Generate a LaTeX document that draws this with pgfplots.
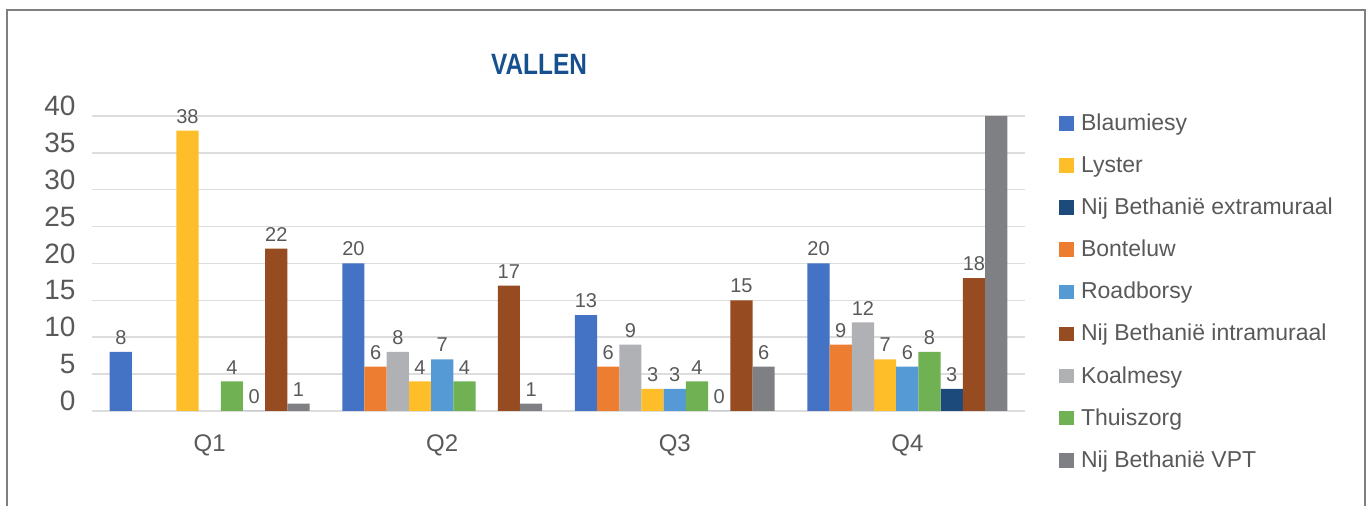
\documentclass[border=0pt]{standalone}
\usepackage{fontspec}
\setmainfont{Liberation Sans}
\newfontfamily\titlefont{Liberation Sans}[FakeStretch=0.83]
\usepackage{pgfplots}
\pgfplotsset{compat=1.18}
\definecolor{cBlau}{HTML}{4472C4}
\definecolor{cBont}{HTML}{ED7D31}
\definecolor{cKoal}{HTML}{B0B1B4}
\definecolor{cLyst}{HTML}{FEBE29}
\definecolor{cRoad}{HTML}{5599D5}
\definecolor{cThui}{HTML}{6FB153}
\definecolor{cExtr}{HTML}{1B4A7B}
\definecolor{cIntr}{HTML}{974B20}
\definecolor{cVPT}{HTML}{7F8084}
\definecolor{txt}{HTML}{595959}
\definecolor{gridc}{HTML}{DDDDDD}
\definecolor{framec}{HTML}{7F7F7F}
\definecolor{titleblue}{HTML}{17508F}
\begin{document}
\begin{tikzpicture}
\useasboundingbox (0,0) rectangle (685pt,253pt);
\draw[line width=1pt, color=framec] (3.5pt,-2pt) -- (3.5pt,248pt) -- (682.5pt,248pt) -- (682.5pt,-2pt);
\node[anchor=base, inner sep=0pt, font=\titlefont\bfseries\fontsize{14.7}{15}\selectfont, text=titleblue] at (269.5pt,215.5pt) {VALLEN};
\begin{axis}[
  at={(46pt,47.5pt)}, anchor=south west,
  scale only axis, width=466.5pt, height=147.5pt,
  xmin=-0.506, xmax=3.506, ymin=0, ymax=40,
  clip=false,
  ytick={0,5,...,40}, xtick={0,1,2,3}, xticklabels={Q1,Q2,Q3,Q4},
  ymajorgrids, grid style={color=gridc, line width=0.75pt},
  axis line style={draw=none}, major tick length=0pt,
  /pgf/number format/assume math mode=true,
  yticklabel style={font=\fontsize{14}{14}\selectfont, text=txt, xshift=-4.7pt, yshift=5pt},
  xticklabel style={font=\fontsize{12}{12}\selectfont, text=txt, yshift=-8.5pt},
  ybar, bar width=0.0955,
  point meta=explicit symbolic,
  nodes near coords,
  nodes near coords style={font=\fontsize{10}{10}\selectfont, text=txt, inner sep=0pt, yshift=3.5pt},
  legend style={at={(1.0365,1.0203)}, anchor=north west, draw=none, fill=none,
    inner sep=0pt, row sep=7.05pt, column sep=1.5pt,
    font=\fontsize{11.5}{11.5}\selectfont, text=txt,
    nodes={inner sep=2pt, text height=8pt, text depth=2pt}},
  legend cell align=left,
  legend image code/.code={\path[fill=none,draw=none] (0pt,-4.5pt) rectangle (7.3pt,4.5pt);\fill[#1] (0pt,-3.15pt) rectangle (7.3pt,4.15pt);},
]
% legend order: Blaumiesy, Lyster, extramuraal, Bonteluw, Roadborsy, intramuraal, Koalmesy, Thuiszorg, VPT
\addplot[fill=cBlau, draw=none, bar shift=-0.382] coordinates {(0,8) [8] (1,20) [20] (2,13) [13] (3,20) [20]};
\addlegendentry{Blaumiesy}
\addplot[fill=cLyst, draw=none, bar shift=-0.0955] coordinates {(0,38) [38] (1,4) [4] (2,3) [3] (3,7) [7]};
\addlegendentry{Lyster}
\addplot[fill=cExtr, draw=none, bar shift=0.191] coordinates {(0,0) [0] (2,0) [0] (3,3) [3]};
\addlegendentry{Nij Bethanië extramuraal}
\addplot[fill=cBont, draw=none, bar shift=-0.2865] coordinates {(1,6) [6] (2,6) [6] (3,9) [9]};
\addlegendentry{Bonteluw}
\addplot[fill=cRoad, draw=none, bar shift=0] coordinates {(1,7) [7] (2,3) [3] (3,6) [6]};
\addlegendentry{Roadborsy}
\addplot[fill=cIntr, draw=none, bar shift=0.2865] coordinates {(0,22) [22] (1,17) [17] (2,15) [15] (3,18) [18]};
\addlegendentry{Nij Bethanië intramuraal}
\addplot[fill=cKoal, draw=none, bar shift=-0.191] coordinates {(1,8) [8] (2,9) [9] (3,12) [12]};
\addlegendentry{Koalmesy}
\addplot[fill=cThui, draw=none, bar shift=0.0955] coordinates {(0,4) [4] (1,4) [4] (2,4) [4] (3,8) [8]};
\addlegendentry{Thuiszorg}
\addplot[fill=cVPT, draw=none, bar shift=0.382] coordinates {(0,1) [1] (1,1) [1] (2,6) [6] (3,40) []};
\addlegendentry{Nij Bethanië VPT}
\end{axis}
\end{tikzpicture}
\end{document}
